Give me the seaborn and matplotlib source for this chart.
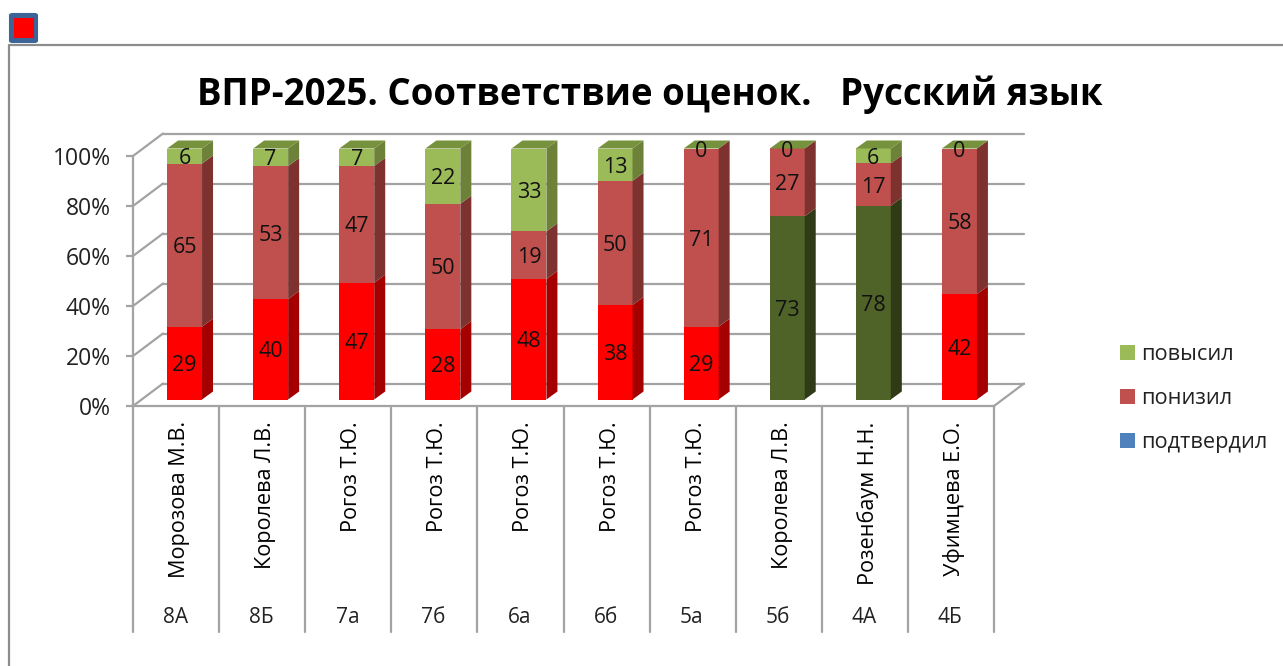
import matplotlib
matplotlib.use('Agg')
import matplotlib.pyplot as plt
import matplotlib.transforms as mtrans
import seaborn as sns
import pandas as pd
from matplotlib.patches import FancyBboxPatch, Patch, Polygon, Rectangle

classes = ['8А', '8Б', '7а', '7б', '6а', '6б', '5а', '5б', '4А', '4Б']
teachers = ['Морозова М.В.', 'Королева Л.В.', 'Рогоз Т.Ю.', 'Рогоз Т.Ю.', 'Рогоз Т.Ю.',
            'Рогоз Т.Ю.', 'Рогоз Т.Ю.', 'Королева Л.В.', 'Розенбаум Н.Н.', 'Уфимцева Е.О.']
podtverdil = [29, 40, 47, 28, 48, 38, 29, 73, 78, 42]
ponizil = [65, 53, 47, 50, 19, 50, 71, 27, 17, 58]
povysil = [6, 7, 7, 22, 33, 13, 0, 0, 6, 0]
y_ticks = [0, 20, 40, 60, 80, 100]
y_tick_labels = ['0%', '20%', '40%', '60%', '80%', '100%']

W, H = 1283, 666
FONT = 'Open Sans'
GRAY = '#a3a3a3'

# цвета столбцов: лицевая грань / боковая грань
RED, RED_SIDE = '#ff0000', '#a40000'
DARK, DARK_SIDE = '#4f6228', '#2f3b17'
BRICK, BRICK_SIDE = '#c0504d', '#7d3230'
GREEN, GREEN_SIDE, GREEN_TOP = '#9bbb59', '#6d8139', '#76923c'
BLUE = '#4f81bd'

sns.set_style('white')
plt.rcParams['font.family'] = [FONT, 'DejaVu Sans']

df = pd.DataFrame({'Класс': classes, 'Учитель': teachers, 'подтвердил': podtverdil,
                   'понизил': ponizil, 'повысил': povysil})
total = df[['подтвердил', 'понизил', 'повысил']].sum(axis=1)
df['p1'] = df['подтвердил'] / total * 100
df['p2'] = df['понизил'] / total * 100
df['p3'] = df['повысил'] / total * 100


def box(left, top, right, bottom):
    return [left / W, 1 - bottom / H, (right - left) / W, (bottom - top) / H]


fig = plt.figure(figsize=(W / 100, H / 100), dpi=100)

# рамка и значок сверху
fig.add_artist(plt.Line2D([9 / W, 9 / W, 1], [0, 1 - 45 / H, 1 - 45 / H], color='#8c8c8c', lw=1.6))
fig.add_artist(FancyBboxPatch((10 / W, 1 - 42 / H), 27 / W, 28 / H, boxstyle='round,pad=0,rounding_size=0.002',
                              transform=fig.transFigure, fc='#3c6496', ec='#3c6496', lw=1.5))
fig.add_artist(Rectangle((14 / W, 1 - 38 / H), 20 / W, 20 / H, transform=fig.transFigure, fc='#ff0000', ec='none'))

# передняя плоскость: оси, подписи, сетка на стенке
ax_front = fig.add_axes(box(133, 156, 994, 406))
ax_front.set_xlim(-0.5, 9.5)
ax_front.set_ylim(0, 100)
ax_front.set_facecolor('none')
sns.despine(ax=ax_front, top=True, right=True)
for side in ['left', 'bottom']:
    ax_front.spines[side].set_color(GRAY)
    ax_front.spines[side].set_linewidth(1.6)
ax_front.set_yticks(y_ticks)
ax_front.set_yticklabels(y_tick_labels, fontsize=16.5, color='#222222')
ax_front.set_xticks(range(len(classes)))
ax_front.set_xticklabels(teachers, rotation=90, fontsize=15.6, color='black', va='top', ha='center')
ax_front.tick_params(axis='y', left=True, length=5, width=1.6, color=GRAY, pad=11)
ax_front.tick_params(axis='x', bottom=False, length=0, pad=11)

# подписи учителей чуть правее центра ячейки
shift = mtrans.ScaledTranslation(3.5 / 100, 0, fig.dpi_scale_trans)
for lbl in ax_front.get_xticklabels():
    lbl.set_transform(lbl.get_transform() + shift)

wall_dx = 30 / 86.1
wall_dy = 22.5 / 2.5
for t in y_ticks:
    ax_front.plot([-0.5, -0.5 + wall_dx], [t, t + wall_dy], color=GRAY, lw=1.6, clip_on=False, zorder=1)
    ax_front.plot([-0.5 + wall_dx, 9.5 + wall_dx], [t + wall_dy, t + wall_dy], color=GRAY, lw=1.6,
                  clip_on=False, zorder=1)
ax_front.plot([9.5, 9.5 + wall_dx], [0, wall_dy], color=GRAY, lw=1.6, clip_on=False, zorder=1)

table_bottom = -226 / 2.5
for i in range(len(classes) + 1):
    ax_front.plot([i - 0.5, i - 0.5], [0, table_bottom], color=GRAY, lw=1.6, clip_on=False)
for i, c in enumerate(classes):
    ax_front.text(i - 0.01, -84.5, c, ha='center', va='center', fontsize=15, color='#222222')

# столбцы
ax = fig.add_axes(box(141.5, 148.5, 1002.5, 399.5), zorder=3)
ax.set_facecolor('none')

bar_width = 0.406
first_colors = [DARK if c in ('5б', '4А') else RED for c in classes]
first_sides = [DARK_SIDE if c in ('5б', '4А') else RED_SIDE for c in classes]

sns.barplot(data=df, x='Класс', y='p1', hue='Класс', palette=first_colors, saturation=1, width=bar_width,
            dodge=False, legend=False, linewidth=0, ax=ax)
sns.barplot(data=df, x='Класс', y='p2', bottom=df['p1'], color=BRICK, saturation=1, width=bar_width,
            linewidth=0, ax=ax)
sns.barplot(data=df, x='Класс', y='p3', bottom=df['p1'] + df['p2'], color=GREEN, saturation=1, width=bar_width,
            linewidth=0, ax=ax)
for cont in ax.containers:
    for p in cont:
        p.set_clip_on(False)

depth_x = 11 / 86.1
depth_y = 8 / 2.51
label_shift = -1
for i in range(len(classes)):
    xr = i + bar_width / 2
    xl = i - bar_width / 2
    y0 = 0
    for val, side_c in [(df['p1'][i], first_sides[i]), (df['p2'][i], BRICK_SIDE), (df['p3'][i], GREEN_SIDE)]:
        y1 = y0 + val
        ax.add_patch(Polygon([(xr, y0), (xr + depth_x, y0 + depth_y), (xr + depth_x, y1 + depth_y), (xr, y1)],
                             closed=True, fc=side_c, ec='none', clip_on=False))
        y0 = y1
    ax.add_patch(Polygon([(xl, y0), (xl + depth_x, y0 + depth_y), (xr + depth_x, y0 + depth_y), (xr, y0)],
                         closed=True, fc=GREEN_TOP, ec='none', clip_on=False))
    # подписи значений
    ax.text(i, df['p1'][i] / 2 + label_shift, str(podtverdil[i]), ha='center', va='center',
            fontsize=15.5, color='#111111')
    ax.text(i, df['p1'][i] + df['p2'][i] / 2 + label_shift, str(ponizil[i]), ha='center', va='center',
            fontsize=15.5, color='#111111')
    ax.text(i, df['p1'][i] + df['p2'][i] + df['p3'][i] / 2 + label_shift, str(povysil[i]), ha='center', va='center',
            fontsize=15.5, color='#111111')

ax.set_xlim(-0.5, 9.5)
ax.set_ylim(0, 100)
ax.set_axis_off()

fig.text(650 / W, 1 - 95 / H, 'ВПР-2025. Соответствие оценок.   Русский язык', ha='center', va='center',
         fontsize=26.4, fontweight='bold', color='black')

handles = [Patch(fc=GREEN, ec='none'), Patch(fc=BRICK, ec='none'), Patch(fc=BLUE, ec='none')]
fig.legend(handles, ['повысил', 'понизил', 'подтвердил'], loc='center left',
           bbox_to_anchor=(1120 / W, 1 - 398.5 / H), frameon=False, fontsize=15.7, labelcolor='#222222',
           handlelength=0.69, handleheight=0.65, handletextpad=0.28, labelspacing=1.06, borderpad=0, borderaxespad=0)

fig.savefig('out.png', dpi=100, facecolor='white')
